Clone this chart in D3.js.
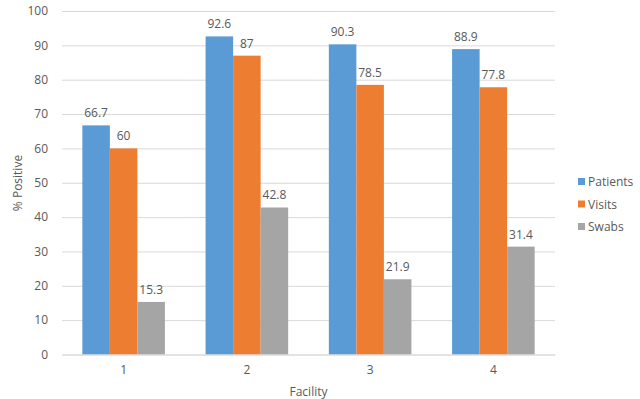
<!DOCTYPE html>
<html><head><meta charset="utf-8">
<script src="https://cdn.jsdelivr.net/npm/d3@7"></script>
<style>body{margin:0;background:#fff}svg{display:block}text{font-family:"Open Sans","Liberation Sans",sans-serif;fill:#595959}</style>
</head><body><svg id="c" width="640" height="399"></svg>
<script>
const facilities = ["1","2","3","4"];
const seriesNames = ["Patients","Visits","Swabs"];
const patients = [66.7, 92.6, 90.3, 88.9];
const visits = [60, 87, 78.5, 77.8];
const swabs = [15.3, 42.8, 21.9, 31.4];
const yTicks = [0,10,20,30,40,50,60,70,80,90,100];
const colors = ["#5B9BD5","#ED7D31","#A5A5A5"];
const seriesValues = [patients, visits, swabs];

const svg = d3.select("#c");
const m = {l:62, r:555, t:11, b:354.5};
const x = d3.scaleBand().domain(facilities).range([m.l, m.r]).paddingInner(0.33).paddingOuter(0.165);
const xs = d3.scaleBand().domain(seriesNames).range([0, x.bandwidth()]);
const y = d3.scaleLinear().domain([0,100]).range([m.b, m.t]);

const yAxis = svg.append("g").attr("transform",`translate(${m.l},0)`)
  .call(d3.axisLeft(y).tickValues(yTicks).tickSize(-(m.r-m.l)).tickPadding(14));
yAxis.select(".domain").remove();
yAxis.selectAll(".tick line").attr("stroke","#D9D9D9").attr("stroke-width",1);
yAxis.selectAll(".tick text").style("font-size","12px").attr("fill","#595959");

const groups = svg.append("g").selectAll("g").data(facilities).join("g")
  .attr("transform", d => `translate(${x(d)},0)`);
seriesNames.forEach((s, si) => {
  groups.append("rect")
    .attr("x", xs(s)).attr("width", xs.bandwidth())
    .attr("y", (d,i) => y(seriesValues[si][i]))
    .attr("height", (d,i) => y(0) - y(seriesValues[si][i]))
    .attr("fill", colors[si]);
  groups.append("text")
    .attr("x", xs(s) + xs.bandwidth()/2)
    .attr("y", (d,i) => y(seriesValues[si][i]) - 8)
    .attr("text-anchor","middle").style("font-size","12px")
    .text((d,i) => seriesValues[si][i]);
});

const xAxis = svg.append("g").attr("transform",`translate(0,${m.b})`)
  .call(d3.axisBottom(x).tickSize(0).tickPadding(11));
xAxis.select(".domain").attr("stroke","#D9D9D9");
xAxis.selectAll(".tick text").style("font-size","12px").attr("fill","#595959");

svg.append("text").attr("x", (m.l+m.r)/2).attr("y", 396).attr("text-anchor","middle")
  .style("font-size","12px").text("Facility");
svg.append("text").attr("transform","translate(22,183) rotate(-90)").attr("text-anchor","middle")
  .style("font-size","12px").text("% Positive");

const lg = svg.append("g").selectAll("g").data(seriesNames).join("g")
  .attr("transform", (d,i) => `translate(578,${182 + i*22.5})`);
lg.append("rect").attr("x",0).attr("y",-4).attr("width",7).attr("height",7).attr("fill",(d,i)=>colors[i]);
lg.append("text").attr("x",10).attr("y",4).style("font-size","12px").text(d=>d);
</script></body></html>
